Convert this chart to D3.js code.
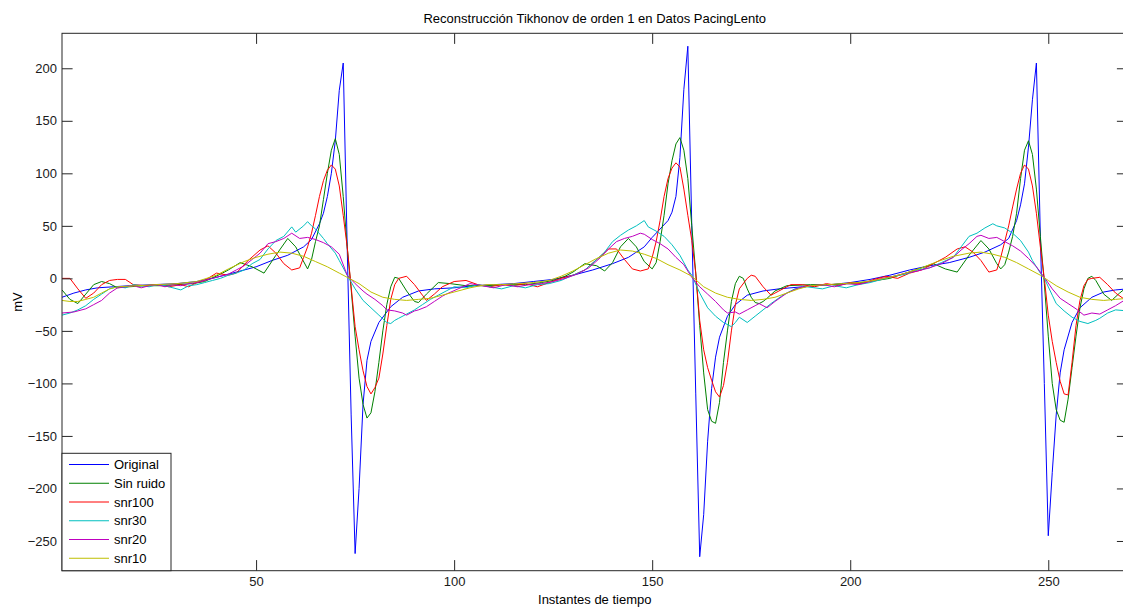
<!DOCTYPE html>
<html>
<head>
<meta charset="utf-8">
<script src="https://cdn.jsdelivr.net/npm/d3@7"></script>
<style>
    body { margin: 0; background: #fff; }
    svg { display: block; font-family: "Liberation Sans", Arial, sans-serif; }
</style>
</head>
<body>
<svg id="chart" width="1123" height="608"></svg>
<script>
const xTicks = [50, 100, 150, 200, 250];
const yTicks = [-250, -200, -150, -100, -50, 0, 50, 100, 150, 200];
const seriesNames = ["Original", "Sin ruido", "snr100", "snr30", "snr20", "snr10"];

// [instante, mV]
const original = [[1,-18],[4,-14],[7,-11],[10,-9],[14,-8],[18,-7],[24,-6],[30,-5],[35,-3],[40,1],[45,6],[50,11],[54,17],[58,22],[62,30],[64,37],[66,52],[67,62],[68,78],[69,100],[70,131],[71,179],[72,205],[73,30],[74,-130],[75,-262],[76,-200],[77,-120],[78,-78],[79,-60],[81,-42],[84,-27],[87,-18],[91,-12],[95,-10],[100,-9],[105,-7],[110,-6],[115,-5],[120,-3],[125,-1],[130,3],[135,8],[140,14],[144,20],[148,30],[150,39],[152,47],[154,55],[155,63],[156,78],[157,115],[158,180],[159,221],[160,50],[161,-110],[162,-265],[163,-225],[164,-155],[165,-105],[166,-75],[167,-56],[169,-36],[171,-25],[174,-16],[178,-12],[182,-10],[188,-8],[195,-6],[200,-4],[205,-1],[210,3],[215,8],[220,12],[225,15],[230,20],[234,25],[238,32],[240,38],[242,55],[243,70],[244,90],[245,125],[246,170],[247,205],[248,40],[249,-100],[250,-245],[251,-185],[252,-130],[253,-90],[254,-68],[256,-42],[258,-28],[261,-18],[264,-13],[267,-11],[270,-10]];

const sinRuido = [[1,-11],[3,-20],[5,-24],[7,-15],[9,-6],[11,-3],[13,-5],[15,-9],[18,-8],[22,-7],[26,-7],[30,-6],[34,-5],[37,-3],[41,4],[43,8],[46,15],[49,11],[52,5],[55,22],[58,38],[60,30],[63,9],[64,18],[65,35],[66,50],[67,75],[68,100],[69,122],[70,133],[71,118],[72,78],[73,30],[74,-10],[75,-55],[76,-95],[77,-120],[78,-133],[79,-128],[80,-108],[81,-80],[82,-50],[83,-25],[84,-8],[85,1],[86,0],[88,-12],[90,-22],[91,-23],[93,-15],[96,-4],[99,-5],[103,-7],[108,-7],[113,-6],[118,-6],[122,-4],[125,-2],[128,2],[130,6],[133,14],[136,12],[138,7],[140,15],[142,30],[144,38],[146,30],[148,16],[150,9],[151,15],[152,35],[153,60],[154,90],[155,112],[156,128],[157,134],[158,122],[159,95],[160,50],[161,5],[162,-45],[163,-90],[164,-125],[165,-136],[166,-138],[167,-118],[168,-80],[169,-50],[170,-22],[171,-5],[172,2],[173,0],[174,-10],[175,-18],[176,-23],[177,-24],[178,-22],[179,-19],[181,-12],[184,-7],[190,-6],[195,-6],[200,-5],[205,-3],[210,0],[214,5],[218,10],[221,14],[224,9],[227,6],[230,22],[233,36],[235,28],[237,14],[238,9],[239,13],[240,25],[241,40],[242,62],[243,95],[244,122],[245,131],[246,118],[247,85],[248,40],[249,-5],[250,-55],[251,-100],[252,-125],[253,-135],[254,-137],[255,-115],[256,-85],[257,-55],[258,-28],[259,-10],[260,0],[261,2],[262,-2],[264,-15],[266,-21],[268,-14],[270,-8]];

const snr100 = [[1,0],[3,0],[5,-10],[7,-19],[9,-14],[11,-6],[13,-2],[15,-1],[17,-1],[19,-6],[22,-7],[25,-6],[28,-8],[31,-6],[33,-8],[35,-4],[37,-2],[40,5],[43,3],[45,5],[48,17],[51,27],[53,31],[55,24],[57,14],[59,8],[61,10],[62,20],[63,30],[64,43],[65,60],[66,78],[67,93],[68,103],[69,108],[70,104],[71,88],[72,60],[73,30],[74,-8],[75,-46],[76,-68],[77,-88],[78,-103],[79,-110],[80,-104],[81,-95],[82,-72],[83,-45],[84,-20],[85,-6],[86,0],[88,2],[90,-6],[92,-16],[93,-21],[95,-15],[97,-8],[100,-3],[103,-2],[106,-6],[109,-8],[112,-6],[115,-7],[118,-5],[121,-8],[124,-4],[127,0],[130,3],[133,8],[136,18],[139,28],[141,28],[143,18],[145,9],[147,7],[149,9],[150,20],[151,35],[152,55],[153,78],[154,95],[155,105],[156,110],[157,106],[158,85],[159,60],[160,36],[161,5],[162,-40],[163,-68],[164,-85],[165,-97],[166,-108],[167,-113],[168,-102],[169,-80],[170,-50],[171,-25],[172,-10],[174,0],[175,3],[176,2],[178,-8],[180,-16],[182,-12],[185,-6],[188,-6],[191,-8],[194,-5],[197,-7],[200,-4],[203,-5],[206,-1],[209,2],[212,0],[215,5],[218,8],[221,14],[224,20],[227,28],[229,30],[231,25],[233,17],[235,6],[237,8],[238,20],[239,35],[240,50],[241,68],[242,85],[243,100],[244,108],[245,104],[246,88],[247,62],[248,30],[249,0],[250,-35],[251,-60],[252,-80],[253,-98],[254,-110],[255,-111],[256,-80],[257,-45],[258,-21],[259,-7],[260,-1],[261,0],[263,1],[265,-6],[267,-14],[270,-22]];

const snr30 = [[1,-35],[3,-33],[5,-30],[7,-26],[9,-20],[11,-15],[13,-10],[15,-8],[17,-9],[19,-6],[21,-7],[23,-8],[25,-6],[27,-7],[29,-9],[31,-11],[33,-7],[35,-6],[37,-4],[39,-2],[41,0],[43,3],[45,5],[47,8],[49,14],[51,18],[53,28],[55,36],[57,40],[59,49],[60,44],[62,50],[63,54],[64,50],[65,47],[67,38],[68,33],[70,24],[71,17],[73,3],[75,-10],[77,-21],[79,-28],[81,-35],[83,-42],[84,-43],[85,-40],[86,-38],[88,-34],[90,-30],[92,-25],[94,-20],[96,-16],[98,-12],[100,-8],[103,-9],[106,-6],[109,-8],[112,-10],[115,-7],[118,-9],[121,-6],[124,-5],[127,-2],[130,3],[133,8],[136,18],[138,25],[140,35],[142,41],[144,46],[146,50],[148,55],[149,49],[151,45],[153,40],[155,32],[157,22],[159,8],[160,3],[162,-14],[164,-28],[166,-36],[168,-42],[170,-46],[171,-42],[172,-37],[174,-42],[176,-36],[178,-30],[180,-24],[183,-16],[186,-10],[189,-8],[193,-10],[196,-7],[199,-9],[202,-6],[205,-4],[208,-1],[211,2],[214,4],[217,8],[220,10],[223,15],[226,20],[228,30],[230,40],[232,43],[234,48],[236,52],[237,50],[239,48],[241,43],[243,36],[245,25],[246,17],[248,5],[249,0],[251,-16],[252,-24],[254,-31],[256,-37],[258,-41],[260,-43],[262,-40],[263,-38],[265,-33],[267,-30],[270,-31]];

const snr20 = [[1,-33],[4,-32],[7,-29],[9,-25],[11,-21],[13,-14],[15,-9],[17,-8],[19,-7],[21,-9],[23,-7],[25,-6],[27,-8],[29,-6],[31,-7],[33,-5],[35,-4],[37,-2],[39,0],[41,2],[43,4],[45,8],[47,12],[49,18],[51,24],[53,33],[55,35],[57,38],[59,43],[61,38],[63,39],[65,37],[67,34],[69,30],[71,23],[73,3],[75,-5],[77,-12],[78,-15],[80,-20],[82,-26],[83,-30],[85,-31],[87,-33],[88,-35],[90,-31],[91,-30],[93,-27],[95,-22],[97,-17],[98,-15],[101,-10],[104,-5],[107,-7],[110,-9],[113,-6],[116,-8],[119,-6],[122,-5],[125,-3],[128,0],[131,4],[134,10],[137,20],[139,28],[141,35],[143,38],[145,40],[147,43],[148,42],[150,37],[152,33],[154,28],[156,20],[158,13],[160,1],[162,-8],[164,-15],[166,-22],[168,-30],[169,-33],[171,-32],[172,-34],[174,-30],[176,-26],[177,-24],[179,-28],[181,-22],[184,-14],[187,-9],[190,-7],[193,-6],[196,-8],[199,-5],[202,-6],[205,-3],[208,0],[211,2],[214,5],[217,7],[220,10],[223,14],[226,20],[228,27],[230,33],[232,40],[233,41],[235,38],[237,39],[239,35],[241,31],[243,26],[245,19],[247,11],[249,1],[251,-10],[253,-19],[255,-24],[257,-29],[259,-35],[261,-33],[263,-34],[265,-30],[267,-26],[270,-19]];

const snr10 = [[1,-21],[3,-22],[5,-22],[7,-20],[9,-18],[11,-14],[13,-10],[15,-8],[20,-7],[25,-6],[30,-5],[35,-3],[40,3],[43,9],[47,16],[50,20],[53,23],[56,25],[59,24],[62,21],[65,16],[68,11],[71,5],[73,1],[76,-5],[79,-13],[82,-18],[85,-20],[88,-21],[91,-20],[94,-19],[97,-16],[100,-13],[104,-9],[108,-6],[112,-6],[116,-5],[120,-4],[124,-2],[127,2],[130,7],[133,13],[136,19],[139,24],[142,27],[145,26],[148,23],[151,19],[154,13],[157,8],[160,2],[163,-8],[166,-14],[169,-18],[172,-20],[175,-21],[178,-20],[181,-18],[184,-14],[187,-10],[190,-7],[194,-6],[198,-5],[202,-4],[206,-2],[210,1],[214,5],[218,10],[222,16],[226,21],[230,24],[233,25],[236,23],[239,20],[242,15],[245,9],[248,3],[250,-2],[252,-7],[255,-13],[258,-18],[261,-20],[264,-21],[267,-20],[270,-19]];

const allSeries = [original, sinRuido, snr100, snr30, snr20, snr10];
// matlab default colour order
const seriesColors = ["#0000ff", "#008000", "#ff0000", "#00bfbf", "#bf00bf", "#bfbf00"];

const plot = { left: 62, top: 33.3, right: 1127.5, bottom: 570.7 };
const tickLen = 10.6;
const axisColor = "#262626";

const svg = d3.select("#chart");

const x = d3.scaleLinear().domain([1, 270]).range([plot.left, plot.right]);
const y = d3.scaleLinear().domain([-278.3, 233.3]).range([plot.bottom, plot.top]);

svg.append("clipPath")
    .attr("id", "plot-clip")
    .append("rect")
    .attr("x", plot.left)
    .attr("y", plot.top)
    .attr("width", plot.right - plot.left)
    .attr("height", plot.bottom - plot.top);

// curves, drawn in the same order as the legend
const line = d3.line()
    .x(d => x(d[0]))
    .y(d => y(d[1]));

svg.append("g")
    .attr("clip-path", "url(#plot-clip)")
    .selectAll("path")
    .data(allSeries)
    .enter()
    .append("path")
    .attr("d", line)
    .attr("fill", "none")
    .attr("stroke", (d, i) => seriesColors[i])
    .attr("stroke-width", 1);

/** draws one side of the box, ticks pointing inward */
function drawAxis(axis, tx, ty, showLabels) {
    const g = svg.append("g")
        .attr("transform", `translate(${tx},${ty})`)
        .call(axis);
    g.select(".domain").remove();
    g.selectAll(".tick line").attr("stroke", axisColor);
    g.selectAll(".tick text")
        .attr("fill", "#1a1a1a")
        .style("font-size", "13px")
        .style("font-family", "'Liberation Sans', Arial, sans-serif");
    if (!showLabels) {
        g.selectAll(".tick text").remove();
    }
    return g;
}

drawAxis(d3.axisBottom(x).tickValues(xTicks).tickSizeInner(-tickLen).tickSizeOuter(0).tickPadding(6), 0, plot.bottom, true);
drawAxis(d3.axisTop(x).tickValues(xTicks).tickSizeInner(-tickLen).tickSizeOuter(0), 0, plot.top, false);
drawAxis(d3.axisLeft(y).tickValues(yTicks).tickSizeInner(-tickLen).tickSizeOuter(0).tickPadding(5), plot.left, 0, true);
drawAxis(d3.axisRight(y).tickValues(yTicks).tickSizeInner(-tickLen).tickSizeOuter(0), plot.right, 0, false);

svg.append("rect")
    .attr("x", plot.left)
    .attr("y", plot.top)
    .attr("width", plot.right - plot.left)
    .attr("height", plot.bottom - plot.top)
    .attr("fill", "none")
    .attr("stroke", axisColor)
    .attr("stroke-width", 1);

// titles
const midX = (plot.left + plot.right) / 2;

svg.append("text")
    .attr("x", midX)
    .attr("y", 23)
    .attr("text-anchor", "middle")
    .attr("fill", "#000")
    .style("font-size", "13px")
    .text("Reconstrucción Tikhonov de orden 1 en Datos PacingLento");

svg.append("text")
    .attr("x", midX)
    .attr("y", 604)
    .attr("text-anchor", "middle")
    .attr("fill", "#000")
    .style("font-size", "13px")
    .text("Instantes de tiempo");

svg.append("text")
    .attr("transform", `translate(22,${(plot.top + plot.bottom) / 2}) rotate(-90)`)
    .attr("text-anchor", "middle")
    .attr("fill", "#000")
    .style("font-size", "13px")
    .text("mV");

// legend, bottom left corner
const legendBox = { x: 62, y: 453.3, w: 109, h: 117.4 };
const legend = svg.append("g");

legend.append("rect")
    .attr("x", legendBox.x)
    .attr("y", legendBox.y)
    .attr("width", legendBox.w)
    .attr("height", legendBox.h)
    .attr("fill", "#fff")
    .attr("stroke", axisColor)
    .attr("stroke-width", 1);

const entries = legend.selectAll("g.entry")
    .data(seriesNames)
    .enter()
    .append("g")
    .attr("class", "entry")
    .attr("transform", (d, i) => `translate(0,${464.5 + i * 18.75})`);

entries.append("line")
    .attr("x1", 69)
    .attr("x2", 109)
    .attr("stroke", (d, i) => seriesColors[i])
    .attr("stroke-width", 1);

entries.append("text")
    .attr("x", 114)
    .attr("dy", "0.35em")
    .attr("fill", "#000")
    .style("font-size", "13px")
    .text(d => d);
</script>
</body>
</html>
